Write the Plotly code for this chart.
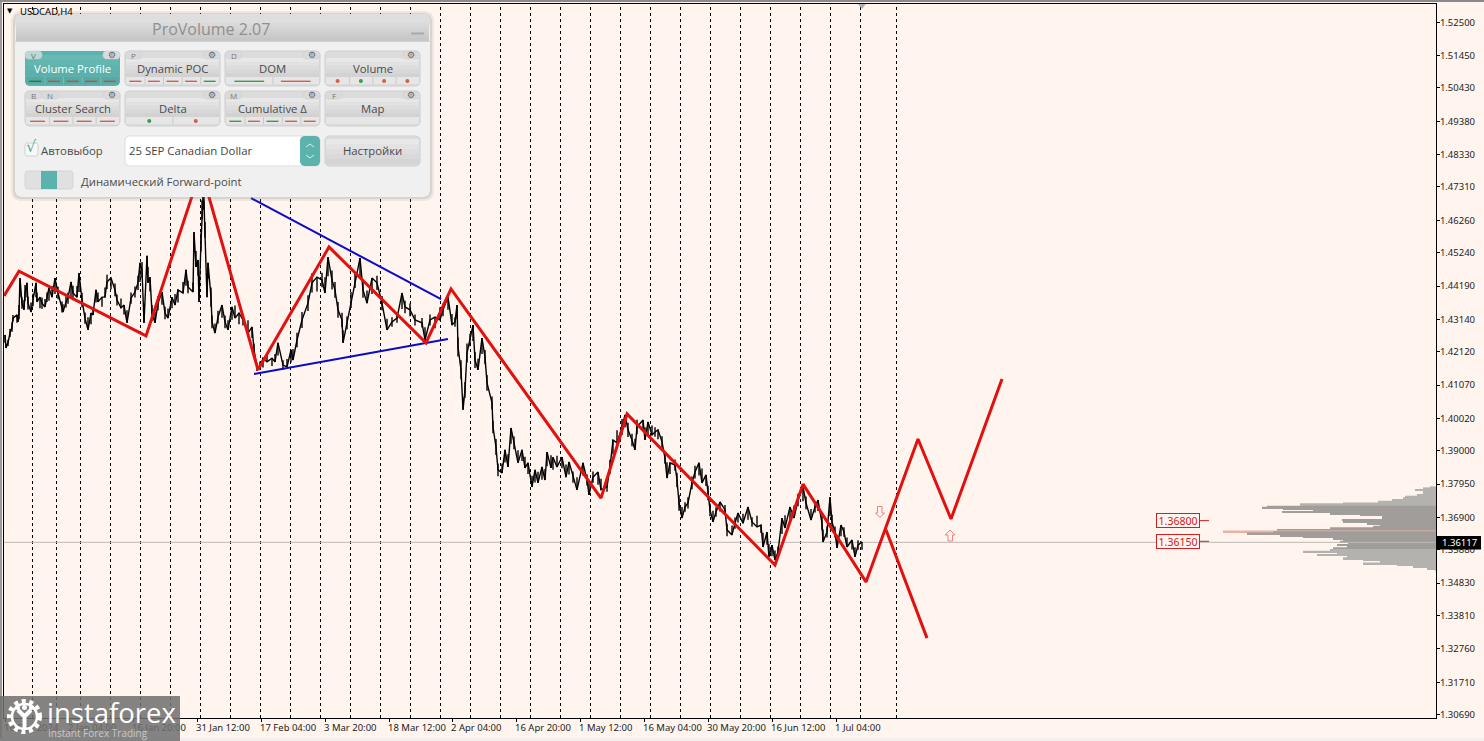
import plotly.graph_objects as go

# ---------- data ----------
price_bars = [
 5,6,8,10,12,13,17,18,19,20,
 22,24,25,27,28,31,33,36,37,40,
 42,45,47,49,52,55,58,62,63,66,
 68,71,73,77,79,82,85,88,91,93,
 96,98,102,105,107,111,115,117,121,124,
 127,131,135,138,140,142,144,147,148,150,
 152,155,158,162,165,168,172,175,178,183,
 186,188,193,194,196,198,199,201,202,203,
 204,205,207,208,211,212,215,218,222,225,
 228,232,235,239,
 243,248,252,254,257,260,263,267,272,275,
 278,283,287,291,293,297,302,308,312,317,
 322,325,328,332,335,338,342,343,347,351,
 355,360,363,367,372,377,382,387,392,397,
 402,405,410,415,422,425,430,435,440,
 443,448,452,455,457,458,461,463,465,467,
 470,473,475,478,482,485,487,492,493,496,
 498,502,505,508,511,514,518,522,525,528,
 532,535,538,542,545,547,551,553,557,562,
 566,569,573,577,583,587,589,593,598,601,
 607,610,613,617,622,625,628,632,635,637,
 643,645,648,652,655,658,662,665,667,670,
 675,677,679,682,685,688,692,695,699,702,
 706,708,710,713,716,720,725,727,732,735,
 738,743,748,752,757,761,763,767,769,772,
 775,778,782,785,790,794,798,803,806,811,
 815,818,822,823,827,830,832,835,837,841,
 844,847,852,855,858,862,
]
price_close = [
 1.4265,1.4224,1.4240,1.4271,1.4290,1.4318,1.4328,1.4306,1.4337,1.4444,
 1.4365,1.4344,1.4397,1.4429,1.4365,1.4337,1.4375,1.4429,1.4369,1.4384,
 1.4365,1.4353,1.4384,1.4413,1.4384,1.4444,1.4397,1.4353,1.4337,1.4369,
 1.4381,1.4432,1.4397,1.4384,1.4460,1.4375,1.4318,1.4281,1.4334,1.4328,
 1.4407,1.4369,1.4384,1.4384,1.4432,1.4444,1.4407,1.4375,1.4350,1.4359,
 1.4303,1.4381,1.4400,1.4429,1.4492,1.4470,1.4303,1.4514,1.4429,1.4447,
 1.4334,1.4303,1.4365,1.4400,1.4334,1.4318,1.4384,1.4359,1.4407,1.4397,
 1.4470,1.4416,1.4400,1.4589,1.4479,1.4501,1.4369,1.4558,1.4659,1.4699,
 1.4681,1.4596,1.4384,1.4492,1.4384,1.4306,1.4271,1.4321,1.4359,1.4306,
 1.4281,1.4353,1.4318,1.4334,
 1.4312,1.4271,1.4290,1.4218,1.4164,1.4161,1.4192,1.4180,1.4192,1.4180,
 1.4240,1.4170,1.4164,1.4218,1.4186,1.4249,1.4312,1.4365,1.4429,1.4447,
 1.4438,1.4397,1.4510,1.4438,1.4407,1.4344,1.4312,1.4240,1.4303,1.4375,
 1.4438,1.4507,1.4407,1.4365,1.4444,1.4429,1.4365,1.4281,1.4306,1.4318,
 1.4397,1.4353,1.4344,1.4312,1.4303,1.4249,1.4312,1.4321,1.4312,
 1.4344,1.4384,1.4296,1.4306,1.4359,1.4227,1.4155,1.4029,1.4092,1.4208,
 1.4249,1.4296,1.4186,1.4155,1.4255,1.4195,1.4114,1.4051,1.3975,1.3912,
 1.3840,1.3830,1.3903,1.3849,1.3972,1.3925,1.3862,1.3903,1.3846,1.3862,
 1.3786,1.3840,1.3799,1.3849,1.3808,1.3896,1.3846,1.3880,1.3849,1.3880,
 1.3817,1.3865,1.3817,1.3777,1.3862,1.3808,1.3761,1.3817,1.3833,1.3777,
 1.3786,1.3849,1.3934,1.3925,1.3975,1.4013,1.3966,1.3934,1.3903,1.3975,
 1.3997,1.3934,1.3991,1.3950,1.3959,1.3966,1.3928,1.3877,1.3814,1.3862,
 1.3855,1.3808,1.3736,1.3688,1.3723,1.3736,1.3799,1.3833,1.3862,1.3799,
 1.3824,1.3767,1.3714,1.3676,1.3707,1.3739,1.3714,1.3651,1.3635,1.3672,
 1.3704,1.3672,1.3723,1.3676,1.3660,1.3666,1.3597,1.3644,1.3566,1.3603,
 1.3556,1.3581,1.3688,1.3657,1.3723,1.3688,1.3745,1.3786,1.3736,1.3682,
 1.3723,1.3745,1.3672,1.3613,1.3644,1.3754,1.3676,1.3644,1.3594,1.3666,
 1.3644,1.3597,1.3619,1.3566,1.3603,1.3613,
]
# estimated height of the bars around each reading
price_range = [
 .0025,.0015,.0020,.0025,.0030,.0020,.0025,.0020,.0045,.0060,
 .0035,.0030,.0050,.0045,.0040,.0030,.0040,.0045,.0030,.0035,
 .0035,.0025,.0030,.0040,.0035,.0050,.0040,.0035,.0025,.0035,
 .0035,.0050,.0045,.0035,.0060,.0045,.0035,.0040,.0035,.0025,
 .0040,.0030,.0030,.0030,.0045,.0035,.0040,.0035,.0030,.0030,
 .0040,.0035,.0035,.0045,.0060,.0050,.0060,.0060,.0050,.0045,
 .0050,.0035,.0045,.0040,.0040,.0030,.0035,.0035,.0040,.0035,
 .0050,.0040,.0030,.0060,.0050,.0050,.0060,.0060,.0060,.0040,
 .0040,.0050,.0060,.0050,.0060,.0040,.0030,.0040,.0040,.0040,
 .0030,.0040,.0040,.0035,
 .0035,.0040,.0035,.0040,.0025,.0020,.0030,.0020,.0025,.0025,
 .0040,.0030,.0025,.0040,.0035,.0045,.0050,.0050,.0060,.0045,
 .0045,.0050,.0060,.0060,.0050,.0050,.0045,.0040,.0040,.0050,
 .0050,.0060,.0050,.0040,.0050,.0045,.0045,.0035,.0030,.0030,
 .0050,.0040,.0040,.0035,.0030,.0040,.0035,.0035,.0040,
 .0040,.0040,.0035,.0030,.0045,.0060,.0060,.0040,.0050,.0060,
 .0040,.0050,.0050,.0035,.0050,.0045,.0050,.0040,.0040,.0050,
 .0040,.0030,.0040,.0040,.0050,.0040,.0040,.0035,.0035,.0035,
 .0035,.0040,.0035,.0040,.0035,.0045,.0040,.0040,.0035,.0035,
 .0040,.0040,.0035,.0040,.0040,.0035,.0040,.0035,.0040,.0035,
 .0030,.0045,.0045,.0040,.0050,.0040,.0045,.0040,.0035,.0045,
 .0035,.0040,.0040,.0030,.0030,.0030,.0035,.0035,.0050,.0035,
 .0035,.0045,.0050,.0035,.0030,.0035,.0040,.0040,.0040,.0045,
 .0035,.0045,.0040,.0035,.0030,.0030,.0030,.0040,.0030,.0035,
 .0030,.0030,.0040,.0030,.0035,.0025,.0045,.0040,.0040,.0035,
 .0030,.0035,.0050,.0040,.0040,.0040,.0040,.0045,.0040,.0035,
 .0035,.0035,.0045,.0040,.0035,.0060,.0045,.0035,.0040,.0035,
 .0030,.0030,.0030,.0030,.0030,.0025,
]
wave_bars = [4,19,146,201,258,329,426,451,601,627,775,803,866,918,951,1002]
wave_prices = [1.4388,1.4466,1.4262,1.4788,1.4155,1.4542,1.4240,1.4410,1.3751,1.4016,1.3540,1.3795,1.3487,1.3937,1.3685,1.4126]
alt_wave_bars = [886,927]
alt_wave_prices = [1.3651,1.3310]
upper_trend_bars = [251,441]
upper_trend_prices = [1.4696,1.4378]
lower_trend_bars = [254,448]
lower_trend_prices = [1.4142,1.4252]
period_bars = [32,56,80,110,140,170,200,230,260,290,320,350,380,410,440,470,500,530,560,590,620,650,680,710,740,770,800,830,860,896]
profile_prices = [1.37849,1.37818,1.37765,1.37713,1.3766,1.37608,1.37555,1.37503,1.3745,1.37398,1.37345,1.37314,1.37272,1.3724,1.37209,1.37177,1.37135,1.37104,1.37072,1.3703,1.36978,1.36925,1.36873,1.3682,1.36768,1.36715,1.36663,1.3661,1.36558,1.36505,1.36463,1.36432,1.364,1.36369,1.36327,1.36295,1.36243,1.3619,1.36138,1.36085,1.36033,1.3598,1.35928,1.35875,1.35823,1.3577,1.35718,1.35665,1.35613,1.3556,1.35508,1.35455,1.35403,1.3535,1.35298,1.35245]
profile_volume = [6,13,21,13,13,19,31,33,44,58,93,136,109,169,174,153,123,109,154,106,76,54,54,94,93,69,56,63,106,159,213,163,189,153,156,133,103,93,96,88,99,89,103,106,133,99,119,89,93,73,56,73,39,23,9,1]
last_price = 1.36117
level_prices = [1.368,1.3615]
level_labels = ["1.36800","1.36150"]
ytick_vals = [1.525,1.5145,1.5043,1.4938,1.4833,1.4731,1.4626,1.4524,1.4419,1.4314,1.4212,1.4107,1.4002,1.39,1.3795,1.369,1.3588,1.3483,1.3381,1.3276,1.3171,1.3069]
xtick_bars = [5,69,133,197,261,325,389,452,516,580,644,708,772,836]
xtick_labels = ["16 Dec 2024","2 Jan 04:00","16 Jan 20:00","31 Jan 12:00","17 Feb 04:00","3 Mar 20:00","18 Mar 12:00","2 Apr 04:00","16 Apr 20:00","1 May 12:00","16 May 04:00","30 May 20:00","16 Jun 12:00","1 Jul 04:00"]

W, H = 1484, 741
L, T, R, B = 4, 4, 1436, 718
BG = "#fff5ee"
AXF = "Noto Sans"
PF = "Open Sans"

def px(x): return (x - L) / (R - L)
def py(y): return 1 - (y - T) / (B - T)

shapes, notes = [], []

def rect(x0, y0, x1, y1, fill, line=None, lw=1, layer="above"):
    shapes.append(dict(type="rect", xref="paper", yref="paper", x0=px(x0), x1=px(x1), y0=py(y1), y1=py(y0),
                       fillcolor=fill, line=dict(color=line or "rgba(0,0,0,0)", width=lw if line else 0), layer=layer))

def poly(path, fill="rgba(0,0,0,0)", line=None, lw=1, layer="above"):
    s = ""
    for seg in path:
        if seg == "Z":
            s += "Z"
        else:
            s += f"{seg[0]}{px(seg[1]):.6f},{py(seg[2]):.6f} "
    shapes.append(dict(type="path", xref="paper", yref="paper", path=s, fillcolor=fill,
                       line=dict(color=line or "rgba(0,0,0,0)", width=lw if line else 0), layer=layer))

def rrect_path(x0, y0, x1, y1, r):
    c = r * 0.3
    return [("M", x0 + r, y0), ("L", x1 - r, y0), ("L", x1 - c, y0 + c), ("L", x1, y0 + r),
            ("L", x1, y1 - r), ("L", x1 - c, y1 - c), ("L", x1 - r, y1),
            ("L", x0 + r, y1), ("L", x0 + c, y1 - c), ("L", x0, y1 - r),
            ("L", x0, y0 + r), ("L", x0 + c, y0 + c), "Z"]

def rrect(x0, y0, x1, y1, r, fill, line=None, lw=1):
    poly(rrect_path(x0, y0, x1, y1, r), fill, line, lw)

def lerp(a, b, t):
    return "#%02x%02x%02x" % tuple(round(a[i] + (b[i] - a[i]) * t) for i in range(3))

def gradient(x0, y0, x1, y1, a, b, n=7):
    h = (y1 - y0) / n
    for i in range(n):
        rect(x0, y0 + i * h, x1, y0 + (i + 1) * h + 0.3, lerp(a, b, i / (n - 1)))

def text(x, y, s, size=12, color="#444444", anchor="left", font=PF, **kw):
    notes.append(dict(xref="paper", yref="paper", x=px(x), y=py(y), text=s, showarrow=False, xanchor=anchor,
                      yanchor="middle", borderpad=0, borderwidth=0, font=dict(family=font, size=size, color=color), **kw))

# --- frame
for v in period_bars:
    shapes.append(dict(type="line", xref="x", yref="paper", x0=v + .5, x1=v + .5, y0=0, y1=1, layer="below",
                       line=dict(color="#000000", width=1, dash="3px,3px")))
rect(0, 0, W, 2, "#8a8a8a")
rect(0, 2, 2, 741, "#9a9a9a")
rect(0, 738, W, 741, "#f0f0f0")
poly([("M", 858, 4), ("L", 866, 4), ("L", 862, 9), "Z"], "#b0b0b0")

text(7, 11, "▼", 7, "#000000", font="DejaVu Sans")
text(20, 11.5, "USDCAD,H4", 9.5, "#000000", font=AXF)

# --- arrows
poly([("M", 877.5, 506.5), ("L", 882, 506.5), ("L", 882, 513), ("L", 884.5, 513), ("L", 880, 517.5), ("L", 875.5, 513), ("L", 877.5, 513), "Z"], "#fff5ee", "#ee8080", 1)
poly([("M", 948, 541), ("L", 952.5, 541), ("L", 952.5, 535), ("L", 955, 535), ("L", 950, 530), ("L", 945, 535), ("L", 948, 535), "Z"], "#fff5ee", "#ee8080", 1)

# --- panel
rrect(11, 11, 434, 201, 8, "rgba(120,120,120,0.12)")
rrect(13, 13, 432, 199, 7, "rgba(120,120,120,0.18)")
rrect(15, 14, 430, 197, 6, "#f0f0f0")
rrect(15, 14, 430, 30, 6, "#dedede")
gradient(16, 20, 429, 41, (222, 222, 222), (198, 198, 198))
rect(15, 41, 430, 42, "#d2d2d2")
text(211, 29, "ProVolume 2.07", 16, "#8f8f8f", "center")
rect(411, 32.5, 424, 34.5, "#a8a8a8")

RED, GREEN = "#d0604f", "#3f9a4f"
buttons = [
 (25, 51, "Volume Profile", ["V"], "l", [GREEN, RED, RED, RED, RED], True),
 (125, 51, "Dynamic POC", ["P"], "l", [RED, RED, RED, RED, GREEN], False),
 (225, 51, "DOM", ["D"], "l", [GREEN, RED], False),
 (325, 51, "Volume", [], "d", [RED, GREEN, RED, RED], False),
 (25, 91, "Cluster Search", ["B", "N"], "l", [RED, RED, RED, RED], False),
 (125, 91, "Delta", [], "d", [GREEN, RED], False),
 (225, 91, "Cumulative Δ", ["M"], "l", [GREEN, RED, GREEN, RED, RED], False),
 (325, 91, "Map", ["F"], "l", [], False),
]
for bx, by, label, tabs, kind, segs, active in buttons:
    w, h = 95, 35
    rrect(bx, by, bx + w, by + h, 4, "#5cb3ae" if active else "#dcdcdc", "#cfcfcf" if not active else None, 1)
    if active:
        gradient(bx + 1, by + 4, bx + w - 1, by + 25, (104, 185, 180), (92, 175, 170), 4)
    else:
        gradient(bx + 1, by + 7, bx + w - 1, by + 26, (232, 232, 232), (210, 210, 210), 5)
    rect(bx + 1, by + 26, bx + w - 1, by + h - 2, "#58a9a4" if active else "#e6e6e6")
    n = len(segs)
    for i, c in enumerate(segs):
        sw = (w - 2) / n
        cx = bx + 1 + sw * (i + .5)
        if i:
            rect(bx + 1 + sw * i, by + 26, bx + 1.8 + sw * i, by + h - 2, "#c4c4c4" if not active else "#7cc0bc")
        if kind == "l":
            hw = sw * 0.32
            rect(cx - hw, by + 29.6, cx + hw, by + 31, c if not active else ("#1f7d4a" if c == GREEN else "#c84f40"))
        else:
            shapes.append(dict(type="circle", xref="paper", yref="paper", x0=px(cx - 2), x1=px(cx + 2), y0=py(by + 32), y1=py(by + 28),
                               fillcolor=c, line=dict(width=0), layer="above"))
    tx = bx
    for t in tabs:
        rrect(tx, by, tx + 17, by + 8, 3, "#dadada" if not active else "#b9d9d6", "#cccccc", 0.5)
        text(tx + 8.5, by + 5, t, 8, "#777777" if not active else "#5a7a78", "center")
        tx += 17
    rrect(bx + w - 17, by, bx + w, by + 8, 3, "#dadada", "#cccccc", 0.5)
    text(bx + w - 8.5, by + 4.5, "⚙", 9, "#666666", "center", font="DejaVu Sans")
    text(bx + w / 2, by + 17, label, 11.3, "#ffffff" if active else "#4a4a4a", "center")

rrect(25, 143, 38, 156, 2, "#f8f8f8", "#d0d0d0", 1)
text(26, 147, "√", 16, "#55aaa5", font="DejaVu Sans")
text(41, 150.5, "Автовыбор", 11.4, "#4a4a4a")
rrect(125, 136, 320, 166, 4, "#ffffff", "#dddddd", 1)
rrect(300, 136, 320, 166, 4, "#5cb3ae")
poly([("M", 306, 147), ("L", 310, 144), ("L", 314, 147)], line="#d8f0ee", lw=1)
poly([("M", 306, 155), ("L", 310, 158), ("L", 314, 155)], line="#d8f0ee", lw=1)
text(129, 151, "25 SEP Canadian Dollar", 11.4, "#444444")
rrect(325, 136, 420, 166, 4, "#dcdcdc", "#cfcfcf", 1)
gradient(326, 139, 419, 164, (232, 232, 232), (212, 212, 212), 5)
text(372.5, 151, "Настройки", 11.3, "#4a4a4a", "center")
rrect(25, 171, 73, 189, 3, "#e0e0e0", "#d4d4d4", 1)
rect(41, 171, 57, 189, "#5cb3ae")
text(81, 181, "Динамический Forward-point", 11.3, "#4a4a4a")

# --- watermark
rect(0, 696, 180, 741, "rgba(112,112,112,0.86)")
cx, cy = 24.5, 716.5
for r, w_, dash in [(15, 5, "4px,3.5px"), (12.5, 2.6, "solid")]:
    shapes.append(dict(type="circle", xref="paper", yref="paper", x0=px(cx - r), x1=px(cx + r), y0=py(cy + r), y1=py(cy - r),
                       fillcolor="rgba(0,0,0,0)", line=dict(color="#ffffff", width=w_, dash=dash), layer="above"))
poly([("M", cx - 2, cy + 12), ("L", cx + 2, cy + 12), ("L", cx + 2, cy + 1), ("L", cx + 8, cy - 5), ("L", cx + 5, cy - 8), ("L", cx, cy - 3), ("L", cx - 5, cy - 8), ("L", cx - 8, cy - 5), ("L", cx - 2, cy + 1), "Z"], "#ffffff")
for dx in (-7, 0, 7):
    r = 2.5
    shapes.append(dict(type="circle", xref="paper", yref="paper", x0=px(cx + dx - r), x1=px(cx + dx + r), y0=py(cy - 9 + r), y1=py(cy - 9 - r),
                       fillcolor="#ffffff", line=dict(width=0), layer="above"))
text(47, 712, "instaforex", 27.5, "#ffffff", font="Open Sans")
text(48, 733, "Instant Forex Trading", 10, "#c9c9c9", font="Open Sans")

# --- price tag and level labels
rect(1437, 536, 1481, 549.5, "#000000")
notes.append(dict(xref="paper", yref="y", x=px(1459), y=last_price - 0.0002, text="1.36117", showarrow=False, xanchor="center", yanchor="middle",
                  borderpad=0, font=dict(family=AXF, size=9.5, color="#ffffff")))
for p, lab in zip(level_prices, level_labels):
    notes.append(dict(xref="x", yref="y", x=1177.5, y=p, text=lab, showarrow=False, xanchor="center", yanchor="middle",
                      font=dict(family=AXF, size=10.5, color="#d02020"), bgcolor=BG, bordercolor="#d02020", borderwidth=1, borderpad=1.5, width=39, height=10))

fig = go.Figure()
vol_colors = []
for p in profile_prices:
    if p == 1.36463:
        vol_colors.append("#e9b3a2")
    elif 1.35900 <= p <= 1.37250:
        vol_colors.append("#a09d9a")
    else:
        vol_colors.append("#b4b2af")
fig.add_trace(go.Bar(orientation="h", y=profile_prices, x=profile_volume, base=[R - v for v in profile_volume],
                     width=0.0006, marker=dict(color=vol_colors, line=dict(width=0))))
fig.add_trace(go.Scatter(x=[L, R], y=[last_price, last_price], mode="lines", line=dict(color="#bcb8b4", width=1)))

# extremes keep their reading: the bar range only extends inward
range_up, range_down = [], []
n_pts = len(price_close)
for i, (c, r) in enumerate(zip(price_close, price_range)):
    prev_c = price_close[max(i - 1, 0)]
    next_c = price_close[min(i + 1, n_pts - 1)]
    if c >= prev_c and c >= next_c:
        range_up.append(0); range_down.append(r)
    elif c <= prev_c and c <= next_c:
        range_up.append(r); range_down.append(0)
    else:
        range_up.append(r / 2); range_down.append(r / 2)
fig.add_trace(go.Scatter(x=price_bars, y=price_close, mode="lines", line=dict(color="#000000", width=1.4),
                         error_y=dict(type="data", symmetric=False, array=range_up, arrayminus=range_down,
                                      color="#000000", thickness=1.4, width=0)))
fig.add_trace(go.Scatter(x=upper_trend_bars, y=upper_trend_prices, mode="lines", line=dict(color="#0a0ac8", width=2)))
fig.add_trace(go.Scatter(x=lower_trend_bars, y=lower_trend_prices, mode="lines", line=dict(color="#0a0ac8", width=2)))
fig.add_trace(go.Scatter(x=wave_bars, y=wave_prices, mode="lines", line=dict(color="#e2100f", width=3)))
fig.add_trace(go.Scatter(x=alt_wave_bars, y=alt_wave_prices, mode="lines", line=dict(color="#e2100f", width=3)))
for p in level_prices:
    fig.add_trace(go.Scatter(x=[1198, 1209], y=[p, p], mode="lines", line=dict(color="#d02020", width=1)))

fig.update_layout(
    width=W, height=H, margin=dict(l=L, r=W - R, t=T, b=H - B, autoexpand=False), autosize=False,
    paper_bgcolor=BG, plot_bgcolor=BG, showlegend=False, barmode="overlay", hovermode=False,
    shapes=shapes, annotations=notes,
    xaxis=dict(range=[L, R], showgrid=False, zeroline=False, showline=True, mirror=True, linecolor="#000000", linewidth=1,
               tickvals=xtick_bars, ticktext=xtick_labels, ticks="outside", ticklen=3, tickcolor="#000000", tickangle=0,
               ticklabelposition="outside right", ticklabelshift=-2, ticklabelstandoff=1, tickfont=dict(family=AXF, size=9.5, color="#222222")),
    yaxis=dict(range=[1.30583, 1.53074], side="right", showgrid=False, zeroline=False, showline=True, mirror=True,
               linecolor="#000000", linewidth=1, tickvals=ytick_vals, ticktext=[f"{v:.5f}" for v in ytick_vals],
               ticks="outside", ticklen=3, ticklabelstandoff=-2, tickcolor="#000000", tickfont=dict(family=AXF, size=9.5, color="#222222")),
)
assert len(price_bars) == len(price_close) == len(price_range)
fig.write_html("out.html", config={"displayModeBar": False},
               post_script="document.body.style.margin='0';document.documentElement.style.overflow='hidden';")
